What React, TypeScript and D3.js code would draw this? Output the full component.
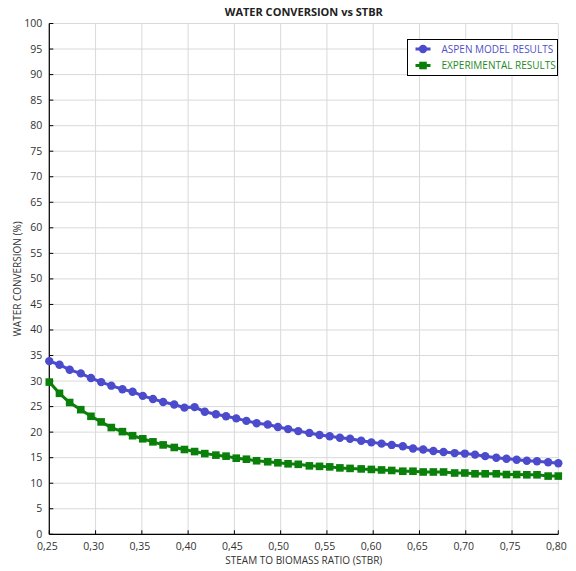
import React from "react";
import * as d3 from "d3";

const stbr = [
  0.25, 0.261, 0.272, 0.284, 0.295, 0.306, 0.317, 0.329, 0.34, 0.351,
  0.362, 0.373, 0.385, 0.396, 0.407, 0.418, 0.43, 0.441, 0.452, 0.463,
  0.474, 0.486, 0.497, 0.508, 0.519, 0.531, 0.542, 0.553, 0.564, 0.575,
  0.587, 0.598, 0.609, 0.62, 0.632, 0.643, 0.654, 0.665, 0.676, 0.688,
  0.699, 0.71, 0.721, 0.733, 0.744, 0.755, 0.766, 0.777, 0.789, 0.8,
];

const aspen = [
  33.9, 33.2, 32.2, 31.5, 30.6, 29.8, 29.1, 28.4, 27.9, 27.1,
  26.5, 25.9, 25.4, 24.8, 24.9, 24.0, 23.5, 23.1, 22.7, 22.2,
  21.75, 21.5, 21.0, 20.6, 20.2, 19.85, 19.45, 19.2, 18.9, 18.7,
  18.3, 18.0, 17.75, 17.5, 17.25, 16.8, 16.6, 16.3, 16.1, 15.9,
  15.8, 15.6, 15.3, 15.0, 14.8, 14.6, 14.4, 14.3, 14.1, 13.9,
];

const experimental = [
  29.8, 27.6, 25.8, 24.4, 23.1, 22.0, 20.9, 20.1, 19.3, 18.7,
  18.1, 17.5, 17.0, 16.6, 16.2, 15.8, 15.5, 15.3, 14.9, 14.7,
  14.4, 14.2, 14.0, 13.8, 13.7, 13.4, 13.3, 13.2, 13.0, 12.9,
  12.8, 12.7, 12.6, 12.5, 12.35, 12.35, 12.2, 12.2, 12.2, 12.0,
  12.0, 11.85, 11.85, 11.85, 11.7, 11.7, 11.65, 11.65, 11.4, 11.4,
];

const xTicks = [0.25, 0.3, 0.35, 0.4, 0.45, 0.5, 0.55, 0.6, 0.65, 0.7, 0.75, 0.8];
const yTicks = [0, 5, 10, 15, 20, 25, 30, 35, 40, 45, 50, 55, 60, 65, 70, 75, 80, 85, 90, 95, 100];

const seriesNames = ["ASPEN MODEL RESULTS", "EXPERIMENTAL RESULTS"];

const W = 576;
const H = 571;
const FONT = "'Open Sans', 'DejaVu Sans', sans-serif";
const BLUE = "#4b4bcc";
const GREEN = "#0a800a";

export default function App() {
  const left = 49.3;
  const right = 558.3;
  const top = 23.5;
  const bottom = 534.3;

  const x = d3.scaleLinear().domain([0.25, 0.8]).range([left, right]);
  const y = d3.scaleLinear().domain([0, 100]).range([bottom, top]);

  const line = d3
    .line<number>()
    .x((_, i) => x(stbr[i]))
    .y((d) => y(d));

  const fmt = (v: number) => v.toFixed(2).replace(".", ",");

  const lgX = 407.5;
  const lgY = 39.5;

  return (
    <svg
      width={W}
      height={H}
      style={{ position: "absolute", left: 0, top: 0, background: "#fff" }}
      fontFamily={FONT}
    >
      <rect x={0} y={0} width={W} height={H} fill="#fff" />
      {/* grid */}
      {xTicks.map((t) => (
        <line key={"gx" + t} x1={x(t)} x2={x(t)} y1={top} y2={bottom} stroke="#d9d9d9" strokeWidth={1} />
      ))}
      {yTicks.map((t) => (
        <line key={"gy" + t} x1={left} x2={right} y1={y(t)} y2={y(t)} stroke="#d9d9d9" strokeWidth={1} />
      ))}
      {/* axes */}
      <line x1={left} x2={left} y1={top} y2={bottom} stroke="#000" strokeWidth={1.2} />
      <line x1={left} x2={right} y1={bottom} y2={bottom} stroke="#000" strokeWidth={1.2} />
      {yTicks.map((t) => (
        <g key={"yt" + t}>
          <line x1={left} x2={left + 4} y1={y(t)} y2={y(t)} stroke="#000" />
          <text x={left - 7} y={y(t)} dy="0.33em" textAnchor="end" fontSize={10.5} fill="#333">
            {t}
          </text>
        </g>
      ))}
      {xTicks.map((t) => (
        <g key={"xt" + t}>
          <line x1={x(t)} x2={x(t)} y1={bottom} y2={bottom - 4} stroke="#000" />
          <text x={x(t) - 2} y={bottom + 16} textAnchor="middle" fontSize={10.5} fill="#333">
            {fmt(t)}
          </text>
        </g>
      ))}
      {/* titles */}
      <text x={(left + right) / 2} y={16} textAnchor="middle" fontSize={11} fontWeight="bold" fill="#222">
        WATER CONVERSION vs STBR
      </text>
      <text x={(left + right) / 2} y={564} textAnchor="middle" fontSize={10} fill="#333">
        STEAM TO BIOMASS RATIO (STBR)
      </text>
      <text
        transform={`translate(21,${(top + bottom) / 2}) rotate(-90)`}
        textAnchor="middle"
        fontSize={10}
        fill="#333"
      >
        WATER CONVERSION (%)
      </text>
      {/* series */}
      <path d={line(experimental) || ""} fill="none" stroke={GREEN} strokeWidth={3} />
      {experimental.map((v, i) => (
        <rect key={"e" + i} x={x(stbr[i]) - 3.8} y={y(v) - 3.8} width={7.6} height={7.6} fill={GREEN} />
      ))}
      <path d={line(aspen) || ""} fill="none" stroke={BLUE} strokeWidth={3} />
      {aspen.map((v, i) => (
        <circle key={"a" + i} cx={x(stbr[i])} cy={y(v)} r={4.2} fill={BLUE} />
      ))}
      {/* legend */}
      <rect x={lgX} y={lgY} width={150} height={36} fill="#fff" stroke="#000" strokeWidth={1} />
      <line x1={lgX + 8} x2={lgX + 23} y1={lgY + 9.5} y2={lgY + 9.5} stroke={BLUE} strokeWidth={3} />
      <circle cx={lgX + 15.5} cy={lgY + 9.5} r={4.2} fill={BLUE} />
      <text x={lgX + 34} y={lgY + 9.5} dy="0.35em" fontSize={10} fill="#5050c8">
        {seriesNames[0]}
      </text>
      <line x1={lgX + 8} x2={lgX + 23} y1={lgY + 26} y2={lgY + 26} stroke={GREEN} strokeWidth={3} />
      <rect x={lgX + 15.5 - 3.8} y={lgY + 26 - 3.8} width={7.6} height={7.6} fill={GREEN} />
      <text x={lgX + 34} y={lgY + 26} dy="0.35em" fontSize={10} fill="#1e8a1e">
        {seriesNames[1]}
      </text>
    </svg>
  );
}
